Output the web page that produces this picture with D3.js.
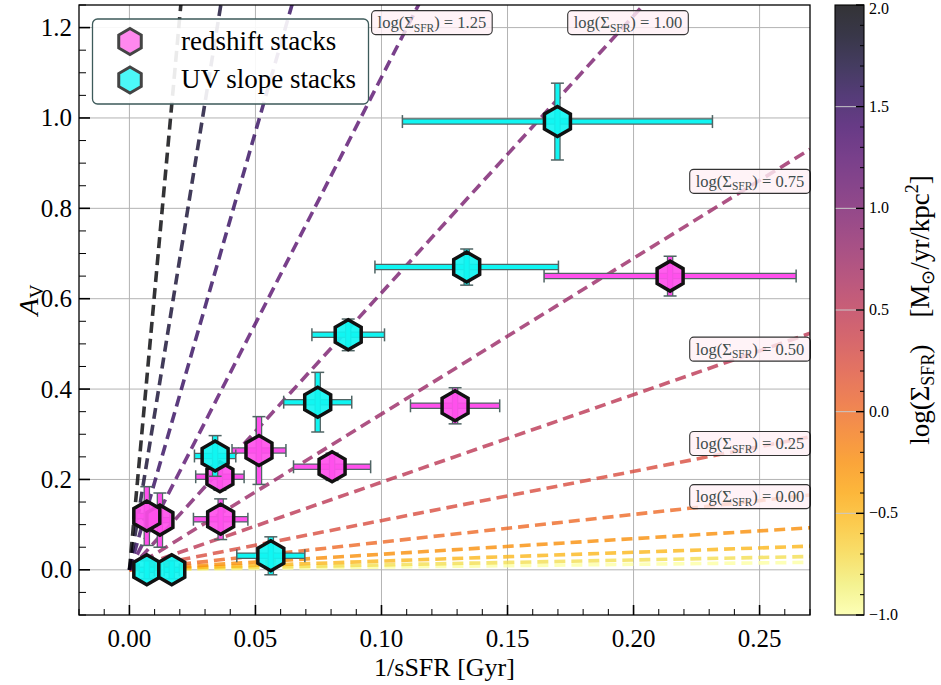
<!DOCTYPE html>
<html><head><meta charset="utf-8">
<script src="https://cdn.jsdelivr.net/npm/d3@7"></script>
<style>body{margin:0;background:#fff} svg{display:block}</style>
</head><body><svg id="c" width="941" height="685"></svg>
<script>
// ---------- data ----------
const xTicks=[0,0.05,0.10,0.15,0.20,0.25];
const yTicks=[0,0.2,0.4,0.6,0.8,1.0,1.2];
const cbTicks=[-1,-0.5,0,0.5,1,1.5,2];
const logSigma=[-1,-0.75,-0.5,-0.25,0,0.25,0.5,0.75,1,1.25,1.5,1.75,2];
const slopeNorm=0.613;
const labelSigma=[1.25,1.00,0.75,0.50,0.25,0.00];
const labelX=[0.120,0.1978,0.2462,0.2462,0.2462,0.2462];
const redX=[0.0121,0.0069,0.0359,0.0514,0.0362,0.0804,0.1292,0.2145];
const redY=[0.110,0.119,0.206,0.264,0.112,0.228,0.363,0.650];
const redXerr=[0.004,0.004,0.0096,0.0107,0.0108,0.0153,0.0177,0.050];
const redYerr=[0.06,0.065,0.03,0.075,0.045,0.03,0.04,0.044];
const uvX=[0.0069,0.0168,0.0561,0.0340,0.0747,0.0868,0.1338,0.1698];
const uvY=[0.0,0.0,0.031,0.252,0.371,0.520,0.670,0.992];
const uvXerr=[0.003,0.003,0.0135,0.0082,0.0135,0.0144,0.0364,0.0615];
const uvYerr=[0.02,0.02,0.042,0.045,0.066,0.035,0.04,0.085];
const seriesNames=["redshift stacks","UV slope stacks"];

// ---------- layout ----------
const FONT='"Liberation Serif", "Times New Roman", serif';
const svg=d3.select("#c");
const L=79,R=810,T=5,B=615;
const x=d3.scaleLinear([-0.02,0.27],[L,R]);
const y=d3.scaleLinear([-0.1,1.25],[B,T]);
const cbL=835,cbR=864;
const cy=d3.scaleLinear([-1,2],[B,T]);
const cmap=v=>d3.interpolateInferno(1-(v+1)/3);
const hex=r=>{const p=d3.path();for(let k=0;k<6;k++){const a=-Math.PI/2+k*Math.PI/3;const px=r*Math.cos(a),py=r*Math.sin(a);k?p.lineTo(px,py):p.moveTo(px,py);}p.closePath();return p.toString();};

const defs=svg.append("defs");
defs.append("clipPath").attr("id","clip").append("rect").attr("x",L).attr("y",T).attr("width",R-L).attr("height",B-T);

// grid
const grid=svg.append("g").attr("stroke","#b3b3b3").attr("stroke-width",1);
grid.selectAll("line.gx").data(xTicks).join("line").attr("x1",d=>x(d)).attr("x2",d=>x(d)).attr("y1",T).attr("y2",B);
grid.selectAll("line.gy").data(yTicks).join("line").attr("y1",d=>y(d)).attr("y2",d=>y(d)).attr("x1",L).attr("x2",R);

// sigma lines
const plot=svg.append("g").attr("clip-path","url(#clip)");
plot.selectAll("line.sig").data(logSigma).join("line")
  .attr("x1",x(0)).attr("y1",y(0))
  .attr("x2",x(0.27)).attr("y2",d=>y(slopeNorm*Math.pow(10,d)*0.27))
  .attr("stroke",d=>cmap(d)).attr("stroke-opacity",0.8)
  .attr("stroke-width",3.6).attr("stroke-dasharray","11 6");

// line labels
labelSigma.forEach((s,i)=>{
  const lx=labelX[i];
  const lineA=slopeNorm*Math.pow(10,s)*lx;
  const cyy=lineA>1.211? y(1.211) : y(lineA)-5;
  const cx=x(lx);
  const g=svg.append("g");
  const rect=g.append("rect");
  const t=g.append("text").attr("x",cx).attr("y",cyy+5.5).attr("text-anchor","middle")
    .attr("font-family",FONT).attr("font-size",16.5).attr("fill","#3f4d4d");
  t.append("tspan").text("log(Σ");
  t.append("tspan").attr("font-size",11.5).attr("dy",3.5).text("SFR");
  t.append("tspan").attr("dy",-3.5).text(") = "+s.toFixed(2));
  const w=t.node().getComputedTextLength()+12;
  rect.attr("x",cx-w/2).attr("y",cyy-12).attr("width",w).attr("height",24).attr("rx",4)
    .attr("fill","#fff0f5").attr("fill-opacity",0.8).attr("stroke","#333").attr("stroke-width",1.1);
});

// error bars + markers
const ebColor="#4f6464";
function drawSeries(xs,ys,xe,ye,fill){
  const g=svg.append("g").attr("clip-path","url(#clip)");
  xs.forEach((xv,i)=>{
    const segs=[[x(xv-xe[i]),y(ys[i]),x(xv+xe[i]),y(ys[i])],[x(xv),y(ys[i]-ye[i]),x(xv),y(ys[i]+ye[i])]];
    segs.forEach(s=>{
      g.append("line").attr("x1",s[0]).attr("y1",s[1]).attr("x2",s[2]).attr("y2",s[3]).attr("stroke",ebColor).attr("stroke-width",6.5);
      g.append("line").attr("x1",s[0]).attr("y1",s[1]).attr("x2",s[2]).attr("y2",s[3]).attr("stroke",fill).attr("stroke-width",4);
    });
    [x(xv-xe[i]),x(xv+xe[i])].forEach(cx=>g.append("line").attr("x1",cx).attr("x2",cx).attr("y1",y(ys[i])-6.5).attr("y2",y(ys[i])+6.5).attr("stroke",ebColor).attr("stroke-width",1.5));
    [y(ys[i]-ye[i]),y(ys[i]+ye[i])].forEach(cv=>g.append("line").attr("y1",cv).attr("y2",cv).attr("x1",x(xv)-6.5).attr("x2",x(xv)+6.5).attr("stroke",ebColor).attr("stroke-width",1.5));
  });
  g.selectAll("path").data(xs).join("path").attr("d",hex(15))
    .attr("transform",(d,i)=>`translate(${x(d)},${y(ys[i])})`)
    .attr("fill",fill).attr("fill-opacity",0.92).attr("stroke","#111").attr("stroke-width",3.5).attr("stroke-linejoin","miter");
}
drawSeries(redX,redY,redXerr,redYerr,"#ff50ec");
drawSeries(uvX,uvY,uvXerr,uvYerr,"#10f5f2");

// axes frame
svg.append("rect").attr("x",L).attr("y",T).attr("width",R-L).attr("height",B-T).attr("fill","none").attr("stroke","#000").attr("stroke-width",1.3);

// ticks
const tk=svg.append("g").attr("stroke","#000");
d3.range(-0.02,0.2705,0.01).forEach(v=>{
  const major=xTicks.some(t=>Math.abs(t-v)<1e-6);
  tk.append("line").attr("x1",x(v)).attr("x2",x(v)).attr("y1",B).attr("y2",B-(major?10:6)).attr("stroke-width",major?1.6:1);
});
d3.range(-0.1,1.2505,0.05).forEach(v=>{
  const major=yTicks.some(t=>Math.abs(t-v)<1e-6);
  tk.append("line").attr("y1",y(v)).attr("y2",y(v)).attr("x1",L).attr("x2",L+(major?11:7)).attr("stroke-width",major?1.6:1);
});
svg.append("g").selectAll("text").data(xTicks).join("text").attr("x",d=>x(d)).attr("y",647)
  .attr("font-family",FONT).attr("text-anchor","middle").attr("font-size",25).text(d=>d.toFixed(2));
svg.append("g").selectAll("text").data(yTicks).join("text").attr("x",72).attr("y",d=>y(d)+8.5)
  .attr("font-family",FONT).attr("text-anchor","end").attr("font-size",25).text(d=>d.toFixed(1));

// axis labels
svg.append("text").attr("x",(L+R)/2).attr("y",676).attr("font-family",FONT).attr("text-anchor","middle").attr("font-size",26).text("1/sSFR [Gyr]");
const yl=svg.append("text").attr("transform","translate(38,300) rotate(-90)").attr("font-family",FONT).attr("text-anchor","middle").attr("font-size",28);
yl.append("tspan").attr("font-style","italic").text("A");
yl.append("tspan").attr("font-size",19).attr("dy",5).text("V");

// legend
const lg=svg.append("g");
lg.append("rect").attr("x",92.5).attr("y",19).attr("width",276).attr("height",85).attr("rx",5)
  .attr("fill","#fff").attr("fill-opacity",0.9).attr("stroke","#3d5a5a").attr("stroke-width",1.3);
const legFill=["#ff88ee","#4cf9f9"];
seriesNames.forEach((n,i)=>{
  const yy=41.5+i*38.5;
  lg.append("path").attr("d",hex(13)).attr("transform",`translate(130,${yy})`).attr("fill",legFill[i]).attr("stroke","#444").attr("stroke-width",3);
  lg.append("text").attr("x",181).attr("y",yy+8).attr("font-family",FONT).attr("font-size",27).text(n);
});

// colorbar
const grad=defs.append("linearGradient").attr("id","cbg").attr("x1",0).attr("x2",0).attr("y1",1).attr("y2",0);
d3.range(0,1.0001,0.05).forEach(t=>grad.append("stop").attr("offset",t).attr("stop-color",cmap(-1+3*t)).attr("stop-opacity",0.8));
svg.append("rect").attr("x",cbL).attr("y",T).attr("width",cbR-cbL).attr("height",B-T).attr("fill","url(#cbg)");
svg.append("g").selectAll("line").data(cbTicks.slice(1,-1)).join("line").attr("x1",cbL).attr("x2",cbR)
  .attr("y1",d=>cy(d)).attr("y2",d=>cy(d)).attr("stroke","#c8c8c8").attr("stroke-width",1);
const cbt=svg.append("g").attr("stroke","#000");
d3.range(-1,2.0001,0.1).forEach(v=>{
  const major=Math.abs(v*2-Math.round(v*2))<1e-6;
  cbt.append("line").attr("x1",cbR).attr("x2",cbR-(major?8:4)).attr("y1",cy(v)).attr("y2",cy(v)).attr("stroke-width",major?1.4:1);
});
svg.append("rect").attr("x",cbL).attr("y",T).attr("width",cbR-cbL).attr("height",B-T).attr("fill","none").attr("stroke","#000").attr("stroke-width",1.1);
svg.append("g").selectAll("text").data(cbTicks).join("text").attr("x",869).attr("y",d=>Math.max(cy(d)+5,14))
  .attr("font-family",FONT).attr("font-size",16).text(d=>(d<0?"\u2212":"")+Math.abs(d).toFixed(1));
const cl=svg.append("text").attr("transform","translate(929,310) rotate(-90)").attr("font-family",FONT).attr("text-anchor","middle").attr("font-size",27);
cl.append("tspan").text("log(Σ");
cl.append("tspan").attr("font-size",18).attr("dy",4.5).text("SFR");
cl.append("tspan").attr("dy",-4.5).text(")\u2002\u2002[M");
cl.append("tspan").attr("font-size",18).attr("dy",4.5).text("⊙");
cl.append("tspan").attr("dy",-4.5).text("/yr/kpc");
cl.append("tspan").attr("font-size",18).attr("dy",-11).text("2");
cl.append("tspan").attr("dy",11).text("]");
</script></body></html>
